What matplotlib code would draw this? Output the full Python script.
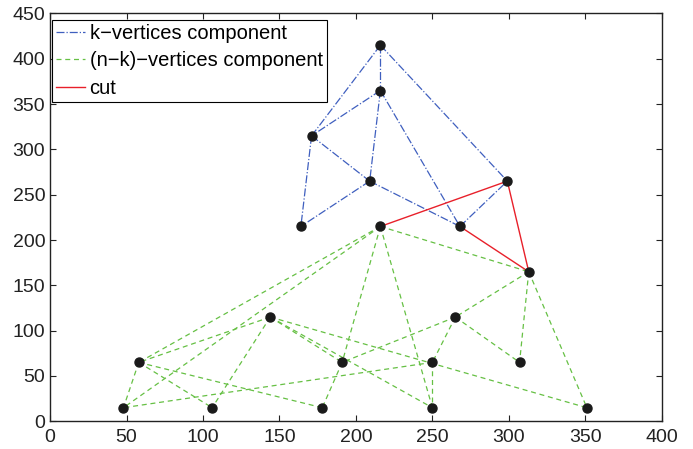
import matplotlib
matplotlib.use("Agg")
import matplotlib.pyplot as plt

plt.rcParams['font.family'] = ['Liberation Sans', 'DejaVu Sans']

# k-vertices component (blue)
k_x = [216, 216, 171, 209, 164, 268, 299]
k_y = [415, 365, 315, 265, 215, 215, 265]
k_edges = [(0, 1), (0, 2), (0, 6), (1, 2), (1, 3), (1, 5),
           (2, 3), (2, 4), (3, 4), (3, 5), (5, 6)]

# (n-k)-vertices component (green)
nk_x = [216, 313, 144, 265, 58, 191, 250, 307, 48, 106, 178, 250, 351]
nk_y = [215, 165, 115, 115, 65, 65, 65, 65, 15, 15, 15, 15, 15]
nk_edges = [(0, 1), (0, 4), (0, 8), (0, 5), (0, 11),
            (1, 3), (1, 7), (1, 12),
            (2, 4), (2, 9), (2, 5), (2, 11), (2, 12),
            (3, 5), (3, 6), (3, 7),
            (4, 8), (4, 9), (4, 10),
            (5, 10),
            (6, 8), (6, 11)]

# cut edges: (k index, n-k index)
cut_edges = [(6, 0), (5, 1), (6, 1)]

blue = '#3f5fbf'
green = '#66c044'
red = '#e8202a'

fig = plt.figure(figsize=(6.93, 4.49), dpi=100)
ax = fig.add_axes([0.0722, 0.0617, 0.8828, 0.9083])

for n, (i, j) in enumerate(k_edges):
    ax.plot([k_x[i], k_x[j]], [k_y[i], k_y[j]], linestyle='-.', color=blue, lw=0.9,
            label='k\u2212vertices component' if n == 0 else None)
for n, (i, j) in enumerate(nk_edges):
    ax.plot([nk_x[i], nk_x[j]], [nk_y[i], nk_y[j]], linestyle='--', color=green, lw=0.9,
            dashes=(4, 3), label='(n\u2212k)\u2212vertices component' if n == 0 else None)
for n, (i, j) in enumerate(cut_edges):
    ax.plot([k_x[i], nk_x[j]], [k_y[i], nk_y[j]], linestyle='-', color=red, lw=1.0,
            label='cut' if n == 0 else None)

ax.plot(k_x, k_y, 'o', color='#1a1a1a', ms=6.5, zorder=5)
ax.plot(nk_x, nk_y, 'o', color='#1a1a1a', ms=6.5, zorder=5)

ax.set_xlim(0, 400)
ax.set_ylim(0, 450)
ax.set_xticks(range(0, 401, 50))
ax.set_yticks(range(0, 451, 50))
ax.tick_params(direction='in', top=True, right=True, labelsize=14, length=4,
               width=0.8, colors='#222222')
ax.tick_params(axis='x', pad=5.5)
ax.tick_params(axis='y', pad=3.5)
for s in ax.spines.values():
    s.set_linewidth(1.0)
    s.set_color('#222222')

leg = ax.legend(loc='upper left', bbox_to_anchor=(0.0038, 0.985), borderaxespad=0,
                fontsize=14.5, fancybox=False, framealpha=1,
                edgecolor='black', handlelength=1.4, handletextpad=0.25,
                labelspacing=0.43, borderpad=0.2)
leg.get_frame().set_linewidth(0.8)

fig.savefig('out.png', dpi=100)
